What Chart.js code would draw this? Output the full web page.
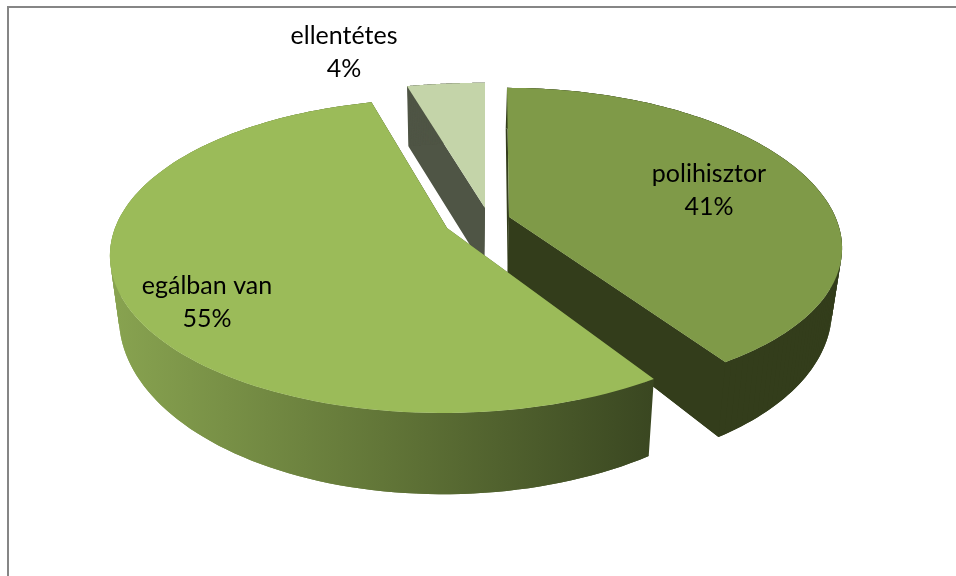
<!DOCTYPE html>
<html>
<head>
<meta charset="utf-8">
<title>pie</title>
<script src="https://cdn.jsdelivr.net/npm/chart.js@4"></script>
<style>
  html, body { margin: 0; padding: 0; background: #fff; overflow: hidden; }
  #marco { position: absolute; left: 7px; top: 6px; width: 2000px; height: 2000px; border: 2px solid #868686; }
  #grafico { position: absolute; left: 0; top: 0; }
</style>
</head>
<body>
<div id="marco"></div>
<canvas id="grafico" width="956" height="576"></canvas>
<script>
"use strict";

var categorias = ["polihisztor", "egálban van", "ellentétes"];
var valores = [41, 55, 4];

/* per slice look, same order as categorias */
var colorTapa = ["#7f9a48", "#9bbb59", "#c4d4a9"];
var colorPared = ["#333d1b", null, "#4f5545"];
var ordenDibujo = [2, 0, 1];
var rebanadas = [
  { dx: 31, dy: -71, sx: 0.995, sy: 0.982, a: 0.000195, b: 0.0407, e: -0.000142, pared: null },
  { dx: -31, dy: -60, sx: 1.012, sy: 1, a: -0.000207, b: 0.0147, e: 0, pared: null },
  { dx: 7, dy: -80, sx: 1.12, sy: 0.97, a: 0, b: 0, e: 0, pared: 60 }
];
var etiquetas = [
  { x: 709, y: 174 },
  { x: 207, y: 286 },
  { x: 344, y: 36 }
];

/* tilted pie: perspective over the arc elements the library computed */
var KX = 1.139, KY = 0.528, PERSP = 0.178;

function proyectar(el, i, ang) {
  var r = rebanadas[i];
  var t = ang + Math.PI / 2;
  var u = Math.sin(t) * el.outerRadius, v = -Math.cos(t) * el.outerRadius;
  var d = 1 - PERSP * v / el.outerRadius;
  var x = KX * u / d, y = KY * v / d;
  x = x * r.sx + r.a * y * y + r.b * y;
  y = y * r.sy + r.e * y * y;
  return { x: el.x + r.dx + x, y: el.y + r.dy + y };
}

function abajo(p, i) {
  var h = rebanadas[i].pared !== null ? rebanadas[i].pared : 30 + 0.124 * p.y;
  return { x: p.x + (457 - p.x) * 0.026, y: p.y + h };
}

function borde(el, i) {
  var pts = [], n = 120;
  for (var k = 0; k <= n; k++) {
    pts.push(proyectar(el, i, el.startAngle + (el.endAngle - el.startAngle) * k / n));
  }
  return pts;
}

function trazar(ctx, pts) {
  ctx.beginPath();
  pts.forEach(function (pt, k) {
    if (k === 0) { ctx.moveTo(pt.x, pt.y); } else { ctx.lineTo(pt.x, pt.y); }
  });
  ctx.closePath();
}

var tarta3d = {
  id: "tarta3d",
  beforeDatasetsDraw: function (chart) {
    var ctx = chart.ctx;
    var arcos = chart.getDatasetMeta(0).data;
    ordenDibujo.forEach(function (i) {
      var el = arcos[i];
      var arco = borde(el, i);
      var centro = { x: el.x + rebanadas[i].dx, y: el.y + rebanadas[i].dy };
      var fill = colorPared[i];
      if (!fill) {
        fill = ctx.createLinearGradient(112, 0, 652, 0);
        fill.addColorStop(0, "#88a350");
        fill.addColorStop(0.5, "#627638");
        fill.addColorStop(1, "#3a4721");
      }
      ctx.save();
      ctx.fillStyle = fill;
      /* walls: outline walked in quads that overlap, so no seams show */
      var vuelta = [centro].concat(arco, [centro]);
      for (var k = 0; k < vuelta.length - 1; k++) {
        var p = vuelta[k], q = vuelta[Math.min(k + 2, vuelta.length - 1)];
        trazar(ctx, [p, vuelta[k + 1], q, abajo(q, i), abajo(vuelta[k + 1], i), abajo(p, i)]);
        ctx.fill();
      }
      /* top face */
      ctx.fillStyle = colorTapa[i];
      trazar(ctx, [centro].concat(arco));
      ctx.fill();
      ctx.restore();
    });
    return false;
  },
  afterDraw: function (chart) {
    var ctx = chart.ctx;
    var total = valores.reduce(function (s, v) { return s + v; }, 0);
    ctx.save();
    ctx.fillStyle = "#000";
    ctx.font = "25px Lato";
    ctx.textAlign = "center";
    ctx.textBaseline = "middle";
    categorias.forEach(function (nombre, i) {
      ctx.fillText(nombre, etiquetas[i].x, etiquetas[i].y);
      ctx.fillText(Math.round(valores[i] / total * 100) + "%", etiquetas[i].x, etiquetas[i].y + 33);
    });
    ctx.restore();
  }
};

new Chart(document.getElementById("grafico"), {
  type: "pie",
  data: {
    labels: categorias,
    datasets: [{ data: valores, backgroundColor: colorTapa, borderWidth: 0 }]
  },
  options: {
    responsive: false,
    animation: false,
    layout: { padding: 0 },
    plugins: { legend: { display: false }, tooltip: { enabled: false }, title: { display: false } }
  },
  plugins: [tarta3d]
});
</script>
</body>
</html>
